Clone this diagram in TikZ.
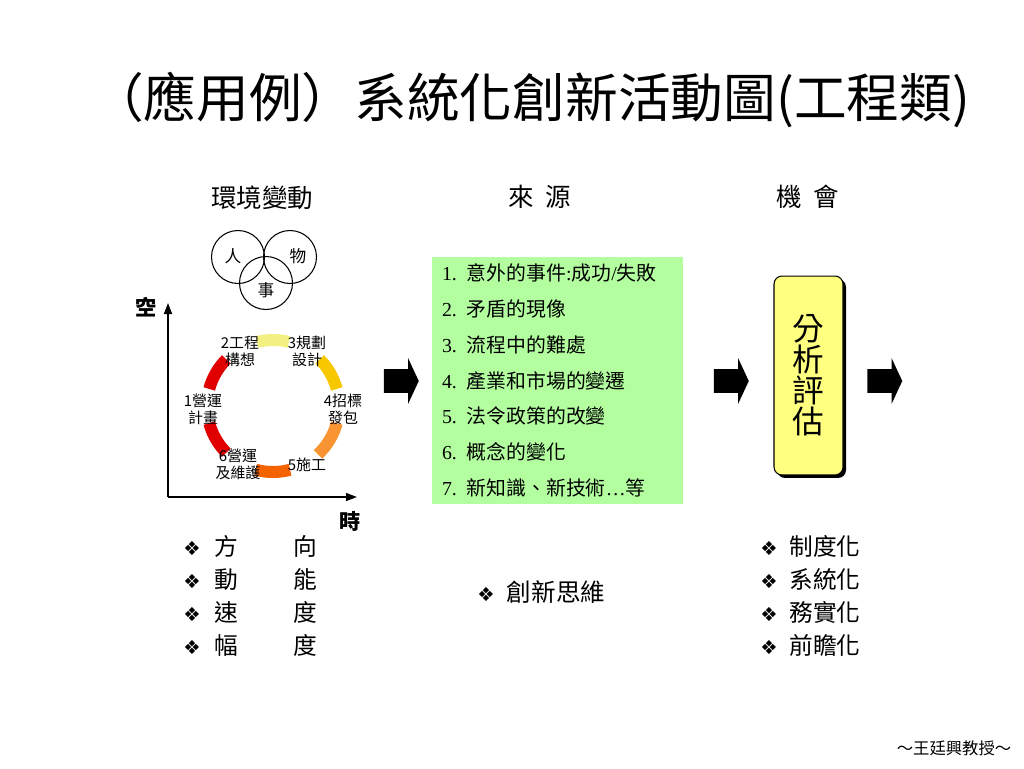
\documentclass[tikz,border=0pt]{standalone}
\usepackage{fontspec}
\setmainfont{Noto Sans CJK TC}
\newfontfamily\tnr{Liberation Serif}
\newfontfamily\dvs{DejaVu Sans}
\usetikzlibrary{arrows.meta, positioning, shapes.arrows, shadows}
\definecolor{cgreen}{HTML}{B3FFA0}
\definecolor{cyellow}{HTML}{FFFF80}
\definecolor{cpale}{HTML}{F2F080}
\definecolor{cgold}{HTML}{F7C800}
\definecolor{clight}{HTML}{F99432}
\definecolor{corange}{HTML}{F56200}
\definecolor{cred}{HTML}{E00000}
\newcommand{\bul}{{\dvs\fontsize{11}{11}\selectfont ❖}}
\tikzset{
  title/.style={font=\fontsize{30}{32}\selectfont, inner sep=0pt},
  head/.style={font=\fontsize{14.5}{16}\selectfont, inner sep=0pt},
  venn/.style={draw, circle, line width=0.6pt, minimum size=1.06cm, inner sep=0pt},
  small/.style={font=\fontsize{9.5}{11}\selectfont, inner sep=0pt},
  stage/.style={font=\fontsize{8.5}{9.7}\selectfont, align=center, inner sep=0pt},
  seg/.style={draw=#1, line width=0.24cm},
  axis/.style={-{Triangle[length=2.2mm, width=1.6mm]}, line width=0.8pt},
  axlabel/.style={font=\fontsize{12}{12}\selectfont\bfseries, inner sep=0pt},
  blockarrow/.style={single arrow, fill=black, inner xsep=0pt, inner ysep=0.23cm,
    minimum height=0.7cm, single arrow head extend=0.22cm, single arrow tip angle=130},
  srcbox/.style={fill=cgreen, minimum width=5.02cm, minimum height=4.94cm, text width=4.62cm,
    inner xsep=0.2cm, align=left, font=\fontsize{11.3}{20.4}\selectfont},
  evalbox/.style={draw, fill=cyellow, rounded corners=0.16cm, minimum width=1.38cm,
    minimum height=3.98cm, align=center, line width=0.6pt, font=\fontsize{18}{17.6}\selectfont,
    drop shadow={shadow xshift=0.06cm, shadow yshift=-0.06cm, fill=black, opacity=1}},
  list/.style={font=\fontsize{13.5}{18.8}\selectfont, align=left, inner sep=0pt, anchor=west},
}

\begin{document}
\begin{tikzpicture}[x=0.02cm, y=-0.02cm]
  \useasboundingbox (0,0) rectangle (1024,768);
  \node[title] (title) at (530.5,100) {（應用例）系統化創新活動圖(工程類)};

  % column heads
  \node[head] (env) at (262,198) {環境變動};
  \node[head] (srchead) at (540,197) {來\hspace{0.45em}源};
  \node[head] (opp) at (808,197) {機\hspace{0.45em}會};

  % venn
  \node[venn] (ren) at (238,257) {};
  \node[venn] (wu) at (290,257) {};
  \node[venn] (shi) at (266,283) {};
  \node[small] (renl) at (233,256) {人};
  \node[small] (wul) at (298,256) {物};
  \node[small] (shil) at (266,290) {事};

  % axes
  \coordinate (o) at (168,497);
  \coordinate (ytop) at (168,303);
  \coordinate (xend) at (357,497);
  \draw[axis] (o) -- (ytop);
  \draw[axis] (o) -- (xend);
  \node[axlabel] (space) at (146,307) {空};
  \node[axlabel] (time) at (350,521) {時};

  % life cycle ring
  \coordinate (ring) at (273,406);
  \draw[seg=cpale] (ring) ++(-76:66) arc (-76:-104:66);
  \draw[seg=cgold] (ring) ++(-15:66) arc (-15:-45:66);
  \draw[seg=clight] (ring) ++(15:66) arc (15:47:66);
  \draw[seg=corange] (ring) ++(75:66) arc (75:105:66);
  \draw[seg=cred] (ring) ++(135:66) arc (135:165:66);
  \draw[seg=cred] (ring) ++(-135:66) arc (-135:-165:66);
  \node[stage] (st1) at (203,409) {1營運\\計畫};
  \node[stage] (st2) at (240,351) {2工程\\構想};
  \node[stage] (st3) at (307,351) {3規劃\\設計};
  \node[stage] (st4) at (343,409) {4招標\\發包};
  \node[stage] (st5) at (307,465) {5施工};
  \node[stage] (st6) at (238,464) {6營運\\及維護};

  % flow
  \node[blockarrow] (arrA) at (398.5,381) {};
  \node[srcbox] (src) at (557.5,380.5) {%
    {\tnr 1. }意外的事件{\tnr :}成功{\tnr /}失敗\\
    {\tnr 2. }矛盾的現像\\
    {\tnr 3. }流程中的難處\\
    {\tnr 4. }產業和市場的變遷\\
    {\tnr 5. }法令政策的改變\\
    {\tnr 6. }概念的變化\\
    {\tnr 7. }新知識、新技術{\tnr …}等};
  \node[blockarrow] (arrB) at (728.5,381) {};
  \node[evalbox] (eval) at (808.5,375.5) {分\\析\\評\\估};
  \node[blockarrow] (arrC) at (882,381) {};

  % bullet lists
  \node[list] (dims) at (183,595.5) {%
    \bul\hspace{0.6em}方\hspace{2.3em}向\\
    \bul\hspace{0.6em}動\hspace{2.3em}能\\
    \bul\hspace{0.6em}速\hspace{2.3em}度\\
    \bul\hspace{0.6em}幅\hspace{2.3em}度};
  \node[list, font=\fontsize{14}{16}\selectfont] (think) at (477,592) {\bul\hspace{0.5em}創新思維};
  \node[list] (aims) at (760,595.5) {%
    \bul\hspace{0.5em}制度化\\
    \bul\hspace{0.5em}系統化\\
    \bul\hspace{0.5em}務實化\\
    \bul\hspace{0.5em}前瞻化};

  \node[font=\fontsize{9.3}{10}\selectfont, inner sep=0pt] (author) at (954,748) {～王廷興教授～};
\end{tikzpicture}
\end{document}
